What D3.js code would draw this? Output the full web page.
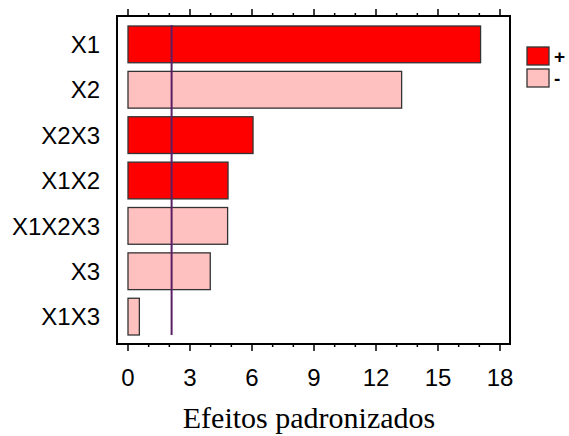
<!DOCTYPE html>
<html>
<head>
<meta charset="utf-8">
<script src="https://cdn.jsdelivr.net/npm/d3@7"></script>
<style>
  body { margin: 0; background: #fff; }
  svg text { font-family: Arial, "Liberation Sans", sans-serif; }
</style>
</head>
<body>
<div id="chart"></div>
<script>
// effects, in the order they are drawn (top to bottom)
var effects = ["X1", "X2", "X2X3", "X1X2", "X1X2X3", "X3", "X1X3"];
var values = [17.06, 13.24, 6.05, 4.84, 4.82, 3.98, 0.55];
var signs = ["+", "-", "+", "+", "-", "-", "-"];
var xTicks = [0, 3, 6, 9, 12, 15, 18];
var refLine = 2.11; // critical value
var legendText = ["+", "-"];

var width = 569, height = 436;
var box = { left: 117, right: 510, top: 16, bottom: 344 };

var color = d3.scaleOrdinal()
  .domain(["+", "-"])
  .range(["#ff0000", "#ffc0c0"]);

var x = d3.scaleLinear()
  .domain([0, 18])
  .range([128, 500]);

var y = d3.scaleBand()
  .domain(effects)
  .range([26, 335])
  .paddingInner(0.19)
  .paddingOuter(0.0);

var svg = d3.select("#chart").append("svg")
  .attr("width", width)
  .attr("height", height);

// bars
svg.selectAll("rect.bar")
  .data(effects)
  .enter()
  .append("rect")
  .attr("class", "bar")
  .attr("x", x(0))
  .attr("y", function(d) { return y(d); })
  .attr("width", function(d, i) { return x(values[i]) - x(0); })
  .attr("height", y.bandwidth())
  .style("fill", function(d, i) { return color(signs[i]); })
  .style("stroke", "#333")
  .style("stroke-width", 1.3);

// reference line
svg.append("line")
  .attr("x1", x(refLine)).attr("x2", x(refLine))
  .attr("y1", 25).attr("y2", 335)
  .style("stroke", "#5b1f66")
  .style("stroke-width", 2);

// frame
svg.append("rect")
  .attr("x", box.left)
  .attr("y", box.top)
  .attr("width", box.right - box.left)
  .attr("height", box.bottom - box.top)
  .style("fill", "none")
  .style("stroke", "#000")
  .style("stroke-width", 2);

// ticks top and bottom
var minor = d3.range(0, 19);
svg.selectAll("line.tb")
  .data(minor)
  .enter()
  .append("line")
  .attr("x1", function(d) { return x(d); })
  .attr("x2", function(d) { return x(d); })
  .attr("y1", box.bottom)
  .attr("y2", function(d) { return box.bottom + (d % 3 === 0 ? 7 : 3); })
  .style("stroke", "#000").style("stroke-width", 1.5);
svg.selectAll("line.tt")
  .data(minor)
  .enter()
  .append("line")
  .attr("x1", function(d) { return x(d); })
  .attr("x2", function(d) { return x(d); })
  .attr("y1", box.top)
  .attr("y2", function(d) { return box.top - (d % 3 === 0 ? 7 : 3); })
  .style("stroke", "#000").style("stroke-width", 1.5);

// tick labels
svg.selectAll("text.xt")
  .data(xTicks)
  .enter()
  .append("text")
  .attr("x", function(d) { return x(d); })
  .attr("y", 386)
  .attr("text-anchor", "middle")
  .style("font-size", "24px")
  .text(function(d) { return d; });

// category labels
svg.selectAll("text.cat")
  .data(effects)
  .enter()
  .append("text")
  .attr("x", 100)
  .attr("y", function(d) { return y(d) + y.bandwidth() / 2; })
  .attr("dy", ".36em")
  .attr("text-anchor", "end")
  .style("font-size", "24px")
  .text(function(d) { return d; });

// axis title
svg.append("text")
  .attr("x", 309)
  .attr("y", 428)
  .attr("text-anchor", "middle")
  .style("font-family", "'Liberation Serif', 'Times New Roman', serif")
  .style("font-size", "30px")
  .text("Efeitos padronizados");

// legend
var legend = svg.selectAll("g.legend")
  .data(color.domain())
  .enter()
  .append("g")
  .attr("transform", function(d, i) { return "translate(527," + (47 + i * 22) + ")"; });
legend.append("rect")
  .attr("width", 22)
  .attr("height", 18)
  .style("fill", color)
  .style("stroke", "#333")
  .style("stroke-width", 1.3);
legend.append("text")
  .data(legendText)
  .attr("x", 27)
  .attr("y", 9)
  .attr("dy", ".35em")
  .style("font-size", "19px")
  .style("font-weight", "bold")
  .text(function(d) { return d; });
</script>
</body>
</html>
